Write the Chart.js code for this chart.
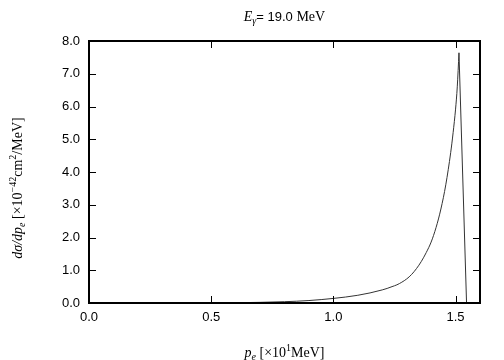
<!DOCTYPE html>
<html>
<head>
<meta charset="utf-8">
<script src="https://cdn.jsdelivr.net/npm/chart.js@4.4.0/dist/chart.umd.min.js"></script>
<style>
  html, body { margin: 0; padding: 0; background: #fff; }
  #wrap { width: 504px; height: 360px; }
</style>
</head>
<body>
<div id="wrap"><canvas id="chart" width="504" height="360"></canvas></div>
<script>
// Electron momentum p_e [x10^1 MeV] and cross section [x10^-42 cm^2/MeV], rising part
const momentum = [0.0, 0.5, 0.6, 0.7, 0.8, 0.9, 1.0, 1.05, 1.1, 1.15, 1.2, 1.22, 1.24, 1.26, 1.28,
  1.30, 1.32, 1.34, 1.36, 1.38, 1.40, 1.42, 1.44, 1.46, 1.48, 1.49, 1.50, 1.507, 1.514];
const crossSection = [0.0, 0.003, 0.008, 0.02, 0.04, 0.075, 0.14, 0.182, 0.236, 0.308, 0.40, 0.445, 0.50, 0.555, 0.635,
  0.735, 0.87, 1.05, 1.27, 1.54, 1.86, 2.30, 2.87, 3.61, 4.59, 5.20, 5.92, 6.6, 7.64];
// steep fall after the peak
const dropMomentum = [1.514, 1.545];
const dropCrossSection = [7.64, 0.0];

const xTicks = [0.0, 0.5, 1.0, 1.5];
const yTicks = [0, 1, 2, 3, 4, 5, 6, 7, 8];

const risePoints = momentum.map((p, i) => ({ x: p, y: crossSection[i] }));
const dropPoints = dropMomentum.map((p, i) => ({ x: p, y: dropCrossSection[i] }));

// draw a run of text pieces: {t, font, dy}
function drawRuns(ctx, runs, x, y, align) {
  let total = 0;
  runs.forEach(r => { ctx.font = r.font; total += ctx.measureText(r.t).width; });
  let cx = align === 'center' ? x - total / 2 : x;
  runs.forEach(r => {
    ctx.font = r.font;
    ctx.fillText(r.t, cx, y + (r.dy || 0));
    cx += ctx.measureText(r.t).width;
  });
}

const framePlugin = {
  id: 'frame',
  afterDraw(chart) {
    const { ctx, chartArea: a, scales } = chart;
    ctx.save();
    // inward ticks, mirrored on all sides
    ctx.strokeStyle = '#000';
    ctx.lineWidth = 1;
    ctx.beginPath();
    xTicks.forEach(v => {
      const px = Math.round(scales.x.getPixelForValue(v)) + 0.5;
      ctx.moveTo(px, a.bottom); ctx.lineTo(px, a.bottom - 7);
      ctx.moveTo(px, a.top); ctx.lineTo(px, a.top + 7);
    });
    yTicks.forEach(v => {
      const py = Math.round(scales.y.getPixelForValue(v)) + 0.5;
      ctx.moveTo(a.left, py); ctx.lineTo(a.left + 7, py);
      ctx.moveTo(a.right, py); ctx.lineTo(a.right - 7, py);
    });
    ctx.stroke();
    // border
    ctx.lineWidth = 2;
    ctx.strokeRect(a.left, a.top, a.right - a.left, a.bottom - a.top);

    ctx.fillStyle = '#000';
    ctx.textBaseline = 'alphabetic';
    const serif = '"Liberation Serif", "DejaVu Serif", serif';
    const sans = '"Liberation Sans", Arial, sans-serif';
    const midX = (a.left + a.right) / 2;

    // title
    drawRuns(ctx, [
      { t: 'E', font: 'italic 14px ' + serif },
      { t: 'γ', font: 'italic 10px ' + serif, dy: 3 },
      { t: '= 19.0 ', font: '13px ' + sans },
      { t: 'MeV', font: '14px ' + serif }
    ], midX, 21, 'center');

    // x-axis title
    drawRuns(ctx, [
      { t: 'p', font: 'italic 14px ' + serif },
      { t: 'e', font: 'italic 10px ' + serif, dy: 3 },
      { t: ' [×10', font: '14px ' + serif },
      { t: '1', font: '10px ' + serif, dy: -6 },
      { t: 'MeV]', font: '14px ' + serif }
    ], midX, 357, 'center');

    // y-axis title
    ctx.translate(22, 188);
    ctx.rotate(-Math.PI / 2);
    drawRuns(ctx, [
      { t: 'dσ/dp', font: 'italic 14px ' + serif },
      { t: 'e', font: 'italic 10px ' + serif, dy: 3 },
      { t: ' [×10', font: '14px ' + serif },
      { t: '−42', font: '10px ' + serif, dy: -6 },
      { t: 'cm', font: '14px ' + serif },
      { t: '2', font: '10px ' + serif, dy: -6 },
      { t: '/MeV]', font: '14px ' + serif }
    ], 0, 0, 'center');
    ctx.restore();
  }
};

const lineStyle = {
  borderColor: '#333',
  borderWidth: 1,
  pointRadius: 0,
  fill: false
};

new Chart(document.getElementById('chart'), {
  type: 'line',
  data: {
    datasets: [
      Object.assign({ data: risePoints, cubicInterpolationMode: 'monotone' }, lineStyle),
      Object.assign({ data: dropPoints, tension: 0 }, lineStyle)
    ]
  },
  options: {
    responsive: false,
    animation: false,
    layout: { padding: { left: 0, right: 24, top: 41, bottom: 0 } },
    plugins: { legend: { display: false }, tooltip: { enabled: false } },
    scales: {
      x: {
        type: 'linear',
        min: 0, max: 1.6,
        afterFit(scale) { scale.height = 57; },
        afterBuildTicks(scale) { scale.ticks = xTicks.map(v => ({ value: v })); },
        grid: { display: false, drawTicks: false },
        border: { display: false },
        ticks: {
          padding: 7,
          color: '#000',
          font: { family: '"Liberation Sans", Arial, sans-serif', size: 13 },
          callback: v => v.toFixed(1)
        }
      },
      y: {
        min: 0, max: 8,
        afterFit(scale) { scale.width = 89; },
        afterBuildTicks(scale) { scale.ticks = yTicks.map(v => ({ value: v })); },
        grid: { display: false, drawTicks: false },
        border: { display: false },
        ticks: {
          padding: 9,
          color: '#000',
          font: { family: '"Liberation Sans", Arial, sans-serif', size: 13 },
          callback: v => v.toFixed(1)
        }
      }
    }
  },
  plugins: [framePlugin]
});
</script>
</body>
</html>
